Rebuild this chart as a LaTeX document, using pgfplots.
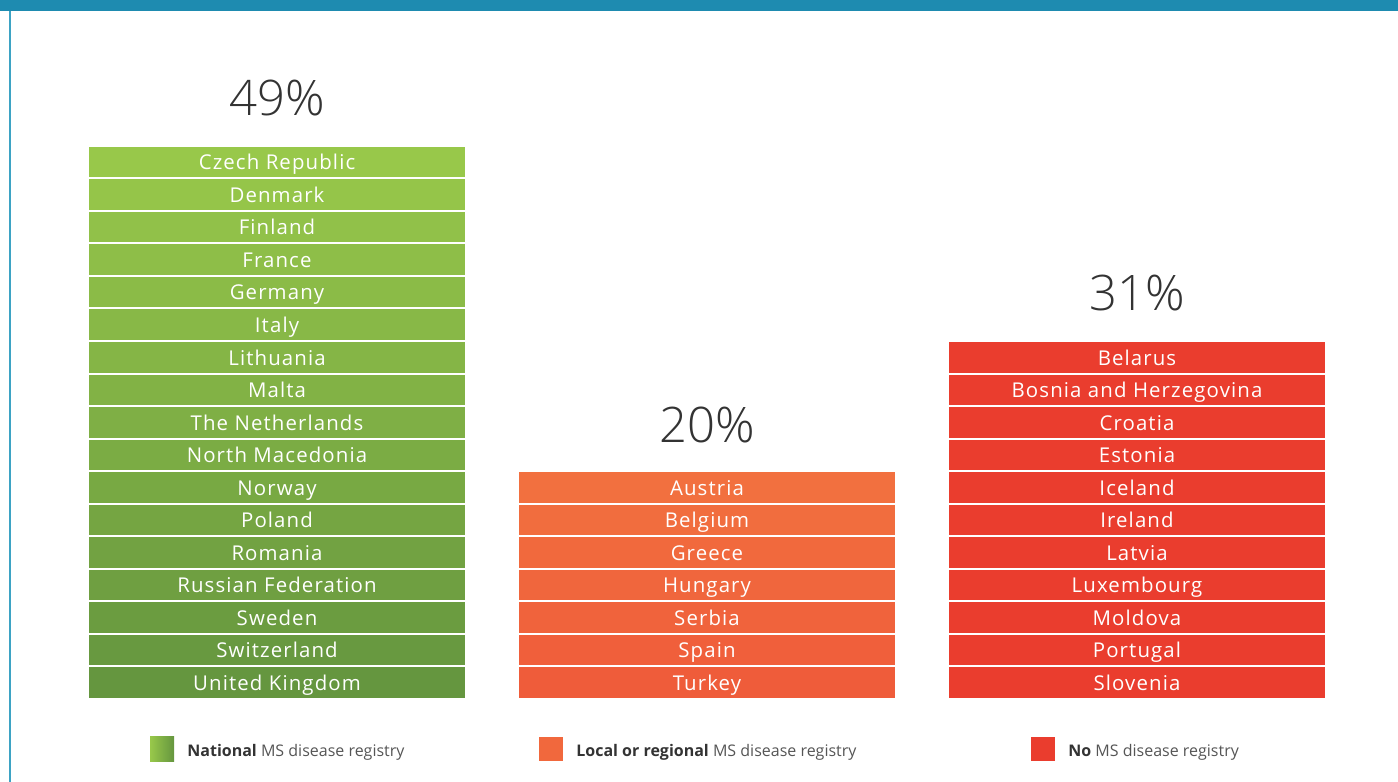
\documentclass[border=0pt]{standalone}
\usepackage{fontspec}
\setmainfont{Open Sans}
\newfontfamily\lightfont{Open Sans Light}
\newfontfamily\labfont[LetterSpace=5.5]{Open Sans}
\usepackage{pgfplots}
\pgfplotsset{compat=1.18}
\definecolor{gTop}{HTML}{98C84A}
\definecolor{gBot}{HTML}{65963F}
\definecolor{oTop}{HTML}{F2703F}
\definecolor{oBot}{HTML}{EF5C3A}
\definecolor{rCol}{HTML}{EA3D2E}
\definecolor{teal}{HTML}{1E8BB0}
\definecolor{tealL}{HTML}{3DA3C4}
\definecolor{txt}{HTML}{333333}
\definecolor{txtg}{HTML}{555555}
\pgfplotsset{colax/.style={
  scale only axis, width=699pt, height=391pt,
  xmin=-0.6442, xmax=2.6070, ymin=-2.550, ymax=21.475,
  hide axis, ybar stacked, bar width=0.879,
  clip=false,
  every axis plot/.append style={draw=white, line width=1pt},
}}
\tikzset{lab/.style={text=white, font=\labfont\fontsize{10.2}{11}\selectfont, anchor=base, inner sep=0pt, yshift=-0.24*32.55*0.5pt},
  pct/.style={text=txt, font=\lightfont\fontsize{24.5}{26}\selectfont, anchor=center},
  leg/.style={anchor=base west, inner sep=0pt, font=\fontsize{8}{9}\selectfont, text=txtg}}
\begin{document}
\begin{tikzpicture}
% ---- National (green) ----
\begin{axis}[colax]
\path (rel axis cs:0,0) rectangle (rel axis cs:1,1);
\fill[teal] (rel axis cs:0,0.98593) rectangle (rel axis cs:1,1);
\fill[tealL] (rel axis cs:0.00644,0) rectangle (rel axis cs:0.00787,0.98593);
\addplot[fill=gBot!100!gTop] coordinates {(0,1)};
\addplot[fill=gBot!94!gTop] coordinates {(0,1)};
\addplot[fill=gBot!88!gTop] coordinates {(0,1)};
\addplot[fill=gBot!81!gTop] coordinates {(0,1)};
\addplot[fill=gBot!75!gTop] coordinates {(0,1)};
\addplot[fill=gBot!69!gTop] coordinates {(0,1)};
\addplot[fill=gBot!63!gTop] coordinates {(0,1)};
\addplot[fill=gBot!56!gTop] coordinates {(0,1)};
\addplot[fill=gBot!50!gTop] coordinates {(0,1)};
\addplot[fill=gBot!44!gTop] coordinates {(0,1)};
\addplot[fill=gBot!38!gTop] coordinates {(0,1)};
\addplot[fill=gBot!31!gTop] coordinates {(0,1)};
\addplot[fill=gBot!25!gTop] coordinates {(0,1)};
\addplot[fill=gBot!19!gTop] coordinates {(0,1)};
\addplot[fill=gBot!13!gTop] coordinates {(0,1)};
\addplot[fill=gBot!6!gTop] coordinates {(0,1)};
\addplot[fill=gBot!0!gTop] coordinates {(0,1)};
\end{axis}
% ---- Local or regional (orange) ----
\begin{axis}[colax]
\addplot[fill=oBot!100!oTop] coordinates {(1,1)};
\addplot[fill=oBot!83!oTop] coordinates {(1,1)};
\addplot[fill=oBot!67!oTop] coordinates {(1,1)};
\addplot[fill=oBot!50!oTop] coordinates {(1,1)};
\addplot[fill=oBot!33!oTop] coordinates {(1,1)};
\addplot[fill=oBot!17!oTop] coordinates {(1,1)};
\addplot[fill=oBot!0!oTop] coordinates {(1,1)};
\end{axis}
% ---- No registry (red) ----
\begin{axis}[colax]
\addplot[fill=rCol] coordinates {(2,1)};
\addplot[fill=rCol] coordinates {(2,1)};
\addplot[fill=rCol] coordinates {(2,1)};
\addplot[fill=rCol] coordinates {(2,1)};
\addplot[fill=rCol] coordinates {(2,1)};
\addplot[fill=rCol] coordinates {(2,1)};
\addplot[fill=rCol] coordinates {(2,1)};
\addplot[fill=rCol] coordinates {(2,1)};
\addplot[fill=rCol] coordinates {(2,1)};
\addplot[fill=rCol] coordinates {(2,1)};
\addplot[fill=rCol] coordinates {(2,1)};
\end{axis}
% ---- labels ----
\begin{axis}[colax]
\node[lab] at (axis cs:0,0.5) {United Kingdom};
\node[lab] at (axis cs:0,1.5) {Switzerland};
\node[lab] at (axis cs:0,2.5) {Sweden};
\node[lab] at (axis cs:0,3.5) {Russian Federation};
\node[lab] at (axis cs:0,4.5) {Romania};
\node[lab] at (axis cs:0,5.5) {Poland};
\node[lab] at (axis cs:0,6.5) {Norway};
\node[lab] at (axis cs:0,7.5) {North Macedonia};
\node[lab] at (axis cs:0,8.5) {The Netherlands};
\node[lab] at (axis cs:0,9.5) {Malta};
\node[lab] at (axis cs:0,10.5) {Lithuania};
\node[lab] at (axis cs:0,11.5) {Italy};
\node[lab] at (axis cs:0,12.5) {Germany};
\node[lab] at (axis cs:0,13.5) {France};
\node[lab] at (axis cs:0,14.5) {Finland};
\node[lab] at (axis cs:0,15.5) {Denmark};
\node[lab] at (axis cs:0,16.5) {Czech Republic};
\node[pct] at (axis cs:0,18.46) {49\%};
\node[lab] at (axis cs:1,0.5) {Turkey};
\node[lab] at (axis cs:1,1.5) {Spain};
\node[lab] at (axis cs:1,2.5) {Serbia};
\node[lab] at (axis cs:1,3.5) {Hungary};
\node[lab] at (axis cs:1,4.5) {Greece};
\node[lab] at (axis cs:1,5.5) {Belgium};
\node[lab] at (axis cs:1,6.5) {Austria};
\node[pct] at (axis cs:1,8.42) {20\%};
\node[lab] at (axis cs:2,0.5) {Slovenia};
\node[lab] at (axis cs:2,1.5) {Portugal};
\node[lab] at (axis cs:2,2.5) {Moldova};
\node[lab] at (axis cs:2,3.5) {Luxembourg};
\node[lab] at (axis cs:2,4.5) {Latvia};
\node[lab] at (axis cs:2,5.5) {Ireland};
\node[lab] at (axis cs:2,6.5) {Iceland};
\node[lab] at (axis cs:2,7.5) {Estonia};
\node[lab] at (axis cs:2,8.5) {Croatia};
\node[lab] at (axis cs:2,9.5) {Bosnia and Herzegovina};
\node[lab] at (axis cs:2,10.5) {Belarus};
\node[pct] at (axis cs:2,12.47) {31\%};
% legend
\fill[left color=gTop, right color=gBot] (axis cs:-0.2953,-1.167) rectangle (axis cs:-0.2395,-1.905);
\node[leg] at (axis cs:-0.2093,-1.77) {\textcolor{txt}{\bfseries National} MS disease registry};
\fill[oTop!60!oBot] (axis cs:0.6093,-1.167) rectangle (axis cs:0.6651,-1.905);
\node[leg] at (axis cs:0.6953,-1.77) {\textcolor{txt}{\bfseries Local or regional} MS disease registry};
\fill[rCol] (axis cs:1.7535,-1.167) rectangle (axis cs:1.8093,-1.905);
\node[leg] at (axis cs:1.8395,-1.77) {\textcolor{txt}{\bfseries No} MS disease registry};
\end{axis}
\end{tikzpicture}
\end{document}
